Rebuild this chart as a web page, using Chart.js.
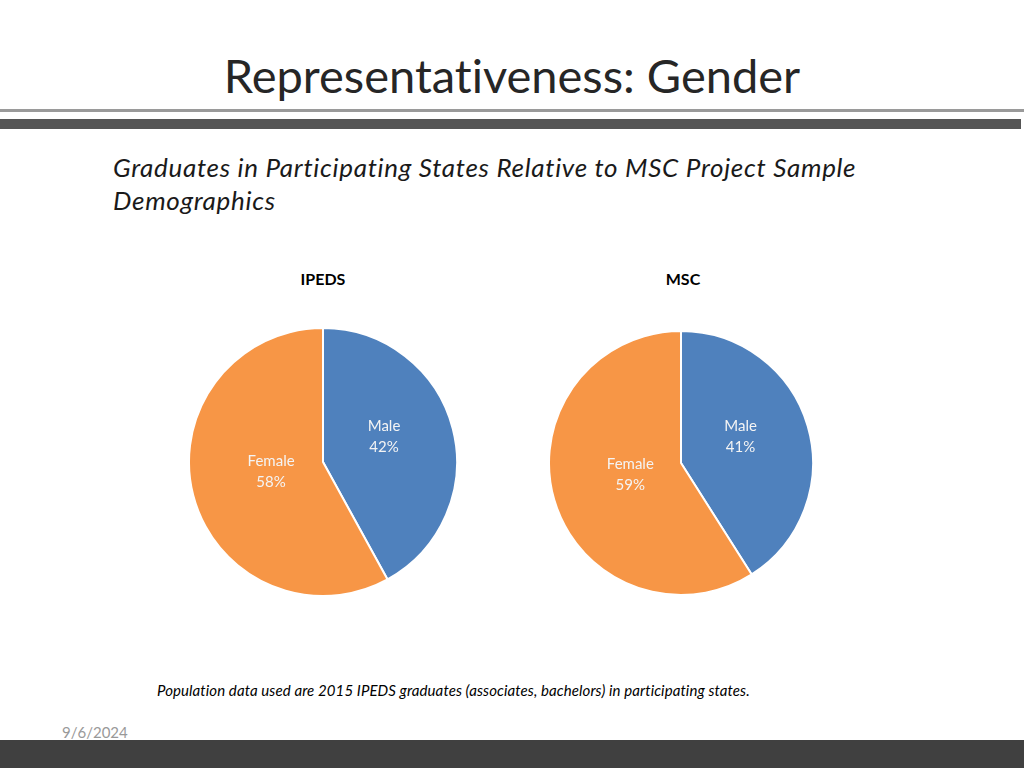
<!DOCTYPE html>
<html>
<head>
<meta charset="utf-8">
<script src="https://cdn.jsdelivr.net/npm/chart.js@4/dist/chart.umd.min.js"></script>
<style>
  html, body { margin: 0; padding: 0; }
  body { width: 1024px; height: 768px; position: relative; overflow: hidden; background: #fff;
         font-family: Lato, "Open Sans", sans-serif; font-variant-ligatures: none; }
  .abs { position: absolute; white-space: nowrap; }
  #title { left: 0; width: 1024px; top: 47px; text-align: center; font-size: 47px; color: #262626; line-height: 56px; }
  #line1 { left: 0; top: 109px; width: 1024px; height: 3px; background: #9a9a9a; }
  #line2 { left: 0; top: 119px; width: 1021px; height: 10px; background: #555; }
  #sub { left: 113px; top: 151px; font-size: 26px; letter-spacing: 0.7px; font-style: italic; line-height: 33px; color: #1a1a1a; }
  .ptitle { font-weight: bold; font-size: 16px; color: #000; width: 200px; text-align: center; top: 269px; }
  #note { left: 157px; top: 681px; font-size: 15px; letter-spacing: 0.1px; font-style: italic; color: #000; }
  #date { left: 62px; top: 723px; font-size: 15px; color: #999; }
  #foot { left: 0; top: 740px; width: 1024px; height: 28px; background: #404040; }
</style>
</head>
<body>
<div id="title" class="abs">Representativeness: Gender</div>
<div id="line1" class="abs"></div>
<div id="line2" class="abs"></div>
<div id="sub" class="abs">Graduates in Participating States Relative to MSC Project Sample<br>Demographics</div>

<div class="abs ptitle" style="left:223px">IPEDS</div>
<div class="abs ptitle" style="left:583px">MSC</div>
<div class="abs" style="left:188px; top:327px; width:270px; height:270px"><canvas id="ipeds"></canvas></div>
<div class="abs" style="left:548px; top:330px; width:266px; height:266px"><canvas id="msc"></canvas></div>

<div id="note" class="abs">Population data used are 2015 IPEDS graduates (associates, bachelors) in participating states.</div>
<div id="date" class="abs">9/6/2024</div>
<div id="foot" class="abs"></div>

<script>
const categories = ['Male', 'Female'];
const ipedsValues = [42, 58];
const mscValues = [41, 59];
const sliceColors = ['#4f81bd', '#f79646'];

// label placement (fraction of radius + small vertical nudge), like Excel's best fit
const labelRadius = [0.47, 0.4];
const labelNudge = [-10, -4];

const sliceLabels = {
    id: 'sliceLabels',
    afterDatasetsDraw(chart) {
        const ctx = chart.ctx;
        const meta = chart.getDatasetMeta(0);
        const values = chart.data.datasets[0].data;
        ctx.save();
        ctx.fillStyle = '#f4f4f4';
        ctx.font = '15px Lato, "Open Sans", sans-serif';
        ctx.textAlign = 'center';
        ctx.textBaseline = 'middle';
        meta.data.forEach((arc, i) => {
            const mid = (arc.startAngle + arc.endAngle) / 2;
            const r = arc.outerRadius * labelRadius[i];
            const x = arc.x + Math.cos(mid) * r;
            const y = arc.y + Math.sin(mid) * r + labelNudge[i];
            ctx.fillText(chart.data.labels[i], x, y - 10);
            ctx.fillText(values[i] + '%', x, y + 11);
        });
        ctx.restore();
    }
};

function makePie(id, values) {
    new Chart(document.getElementById(id), {
        type: 'pie',
        data: {
            labels: categories,
            datasets: [{
                data: values,
                backgroundColor: sliceColors,
                borderColor: '#ffffff',
                borderWidth: 2
            }]
        },
        options: {
            responsive: true,
            maintainAspectRatio: false,
            animation: false,
            plugins: { legend: { display: false }, tooltip: { enabled: false } }
        },
        plugins: [sliceLabels]
    });
}

makePie('ipeds', ipedsValues);
makePie('msc', mscValues);
</script>
</body>
</html>
